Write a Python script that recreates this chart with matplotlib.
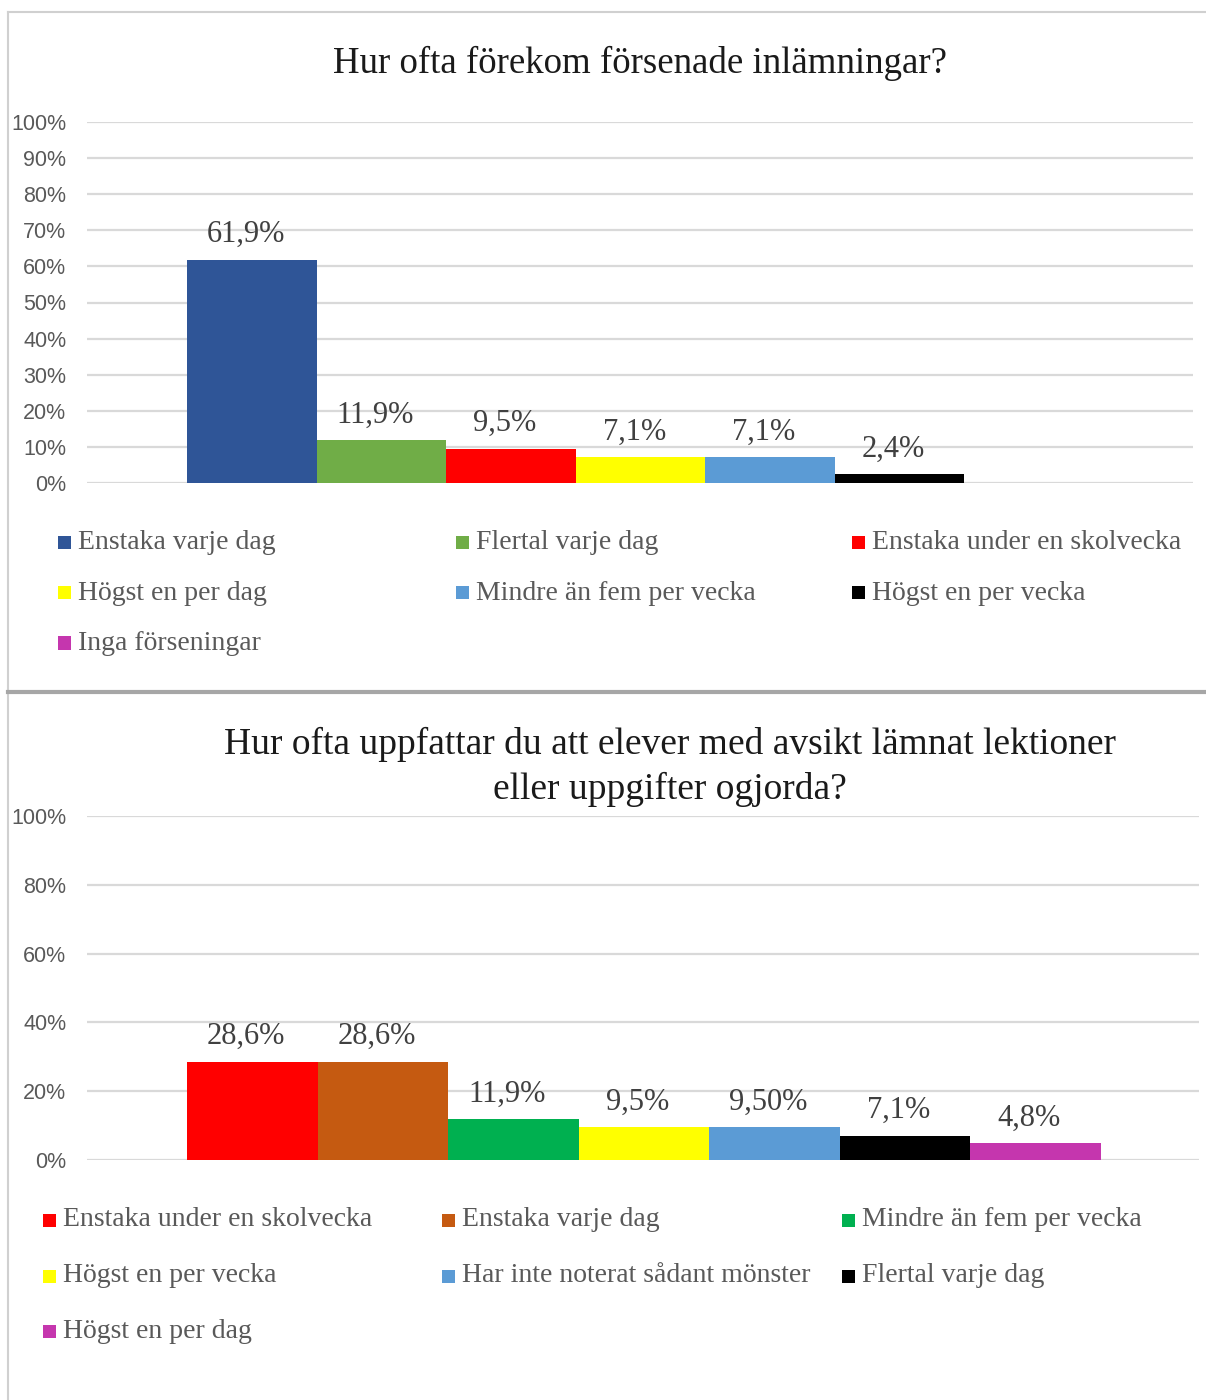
import matplotlib.pyplot as plt
from matplotlib.lines import Line2D
from matplotlib.patches import Rectangle

plt.rcParams['font.family'] = ['Liberation Serif', 'DejaVu Serif']

W, H = 1206, 1400

# --- chart 1 data ---
top_title = "Hur ofta förekom försenade inlämningar?"
top_cats = ["Enstaka varje dag", "Flertal varje dag", "Enstaka under en skolvecka",
            "Högst en per dag", "Mindre än fem per vecka", "Högst en per vecka",
            "Inga förseningar"]
top_vals = [61.9, 11.9, 9.5, 7.1, 7.1, 2.4, 0.0]
top_labels = ["61,9%", "11,9%", "9,5%", "7,1%", "7,1%", "2,4%", ""]
top_colors = ["#2F5597", "#70AD47", "#FF0000", "#FFFF00", "#5B9BD5", "#000000", "#C536AE"]
top_ticks = [0, 10, 20, 30, 40, 50, 60, 70, 80, 90, 100]

# --- chart 2 data ---
bot_title = "Hur ofta uppfattar du att elever med avsikt lämnat lektioner\neller uppgifter ogjorda?"
bot_cats = ["Enstaka under en skolvecka", "Enstaka varje dag", "Mindre än fem per vecka",
            "Högst en per vecka", "Har inte noterat sådant mönster", "Flertal varje dag",
            "Högst en per dag"]
bot_vals = [28.6, 28.6, 11.9, 9.5, 9.5, 7.1, 4.8]
bot_labels = ["28,6%", "28,6%", "11,9%", "9,5%", "9,50%", "7,1%", "4,8%"]
bot_colors = ["#FF0000", "#C55A11", "#00B050", "#FFFF00", "#5B9BD5", "#000000", "#C536AE"]
bot_ticks = [0, 20, 40, 60, 80, 100]


def fx(px):
    return px / W


def fy(py):
    return 1 - py / H


def draw_bars(ax, vals, labels, colors, ticks, xlim):
    xs = range(len(vals))
    ax.bar(xs, vals, width=1.0, color=colors, zorder=3)
    for x, v, lab in zip(xs, vals, labels):
        if lab:
            ax.annotate(lab, (x, v), xytext=(-4.5, 7.5), textcoords='offset points',
                        ha='center', va='bottom', fontsize=22, color='#404040')
    ax.set_xlim(*xlim)
    ax.set_ylim(0, 100)
    ax.set_yticks(ticks)
    ax.set_yticklabels([f"{t}%" for t in ticks], family='Liberation Sans',
                       fontsize=15.5, color='#595959')
    ax.set_xticks([])
    ax.tick_params(axis='y', length=0, pad=15)
    for s in ax.spines.values():
        s.set_visible(False)
    ax.grid(axis='y', color='#d9d9d9', lw=1.6, zorder=0)
    ax.set_axisbelow(True)


def draw_legend(fig, cats, colors, cols_px, rows_px):
    for i, (c, col) in enumerate(zip(cats, colors)):
        mx = cols_px[i % 3]
        my = rows_px[i // 3]
        fig.add_artist(Rectangle((fx(mx), fy(my + 6.5)), 13 / W, 13 / H,
                                 transform=fig.transFigure, color=col, lw=0))
        fig.text(fx(mx + 20), fy(my), c, fontsize=20, color='#595959',
                 ha='left', va='center')


fig = plt.figure(figsize=(W / 100, H / 100), dpi=100)

# panel frames
fig.add_artist(Line2D([fx(8), fx(8)], [0, fy(12)], transform=fig.transFigure,
                      color='#d0d0d0', lw=1.5))
fig.add_artist(Line2D([fx(8), 1], [fy(12), fy(12)], transform=fig.transFigure,
                      color='#d0d0d0', lw=1.5))
fig.add_artist(Line2D([fx(8), 1], [fy(692), fy(692)], transform=fig.transFigure,
                      color='#a6a6a6', lw=3))

# top chart
ax1 = fig.add_axes([fx(87), fy(483), fx(1193) - fx(87), fy(122) - fy(483)])
draw_bars(ax1, top_vals, top_labels, top_colors, top_ticks, (-1.272, 7.264))
fig.text(fx(640), fy(63), top_title, fontsize=26.6, color='#1a1a1a',
         ha='center', va='center')
draw_legend(fig, top_cats, top_colors, [58, 456, 852], [542.5, 593, 643])

# bottom chart
ax2 = fig.add_axes([fx(87), fy(1160), fx(1199) - fx(87), fy(816) - fy(1160)])
draw_bars(ax2, bot_vals, bot_labels, bot_colors, bot_ticks, (-1.266, 7.251))
fig.text(fx(670), fy(767), bot_title, fontsize=27, color='#1a1a1a',
         ha='center', va='center', linespacing=1.34)
draw_legend(fig, bot_cats, bot_colors, [43, 442, 842], [1220, 1276, 1331])

fig.savefig("out.png", dpi=100)
